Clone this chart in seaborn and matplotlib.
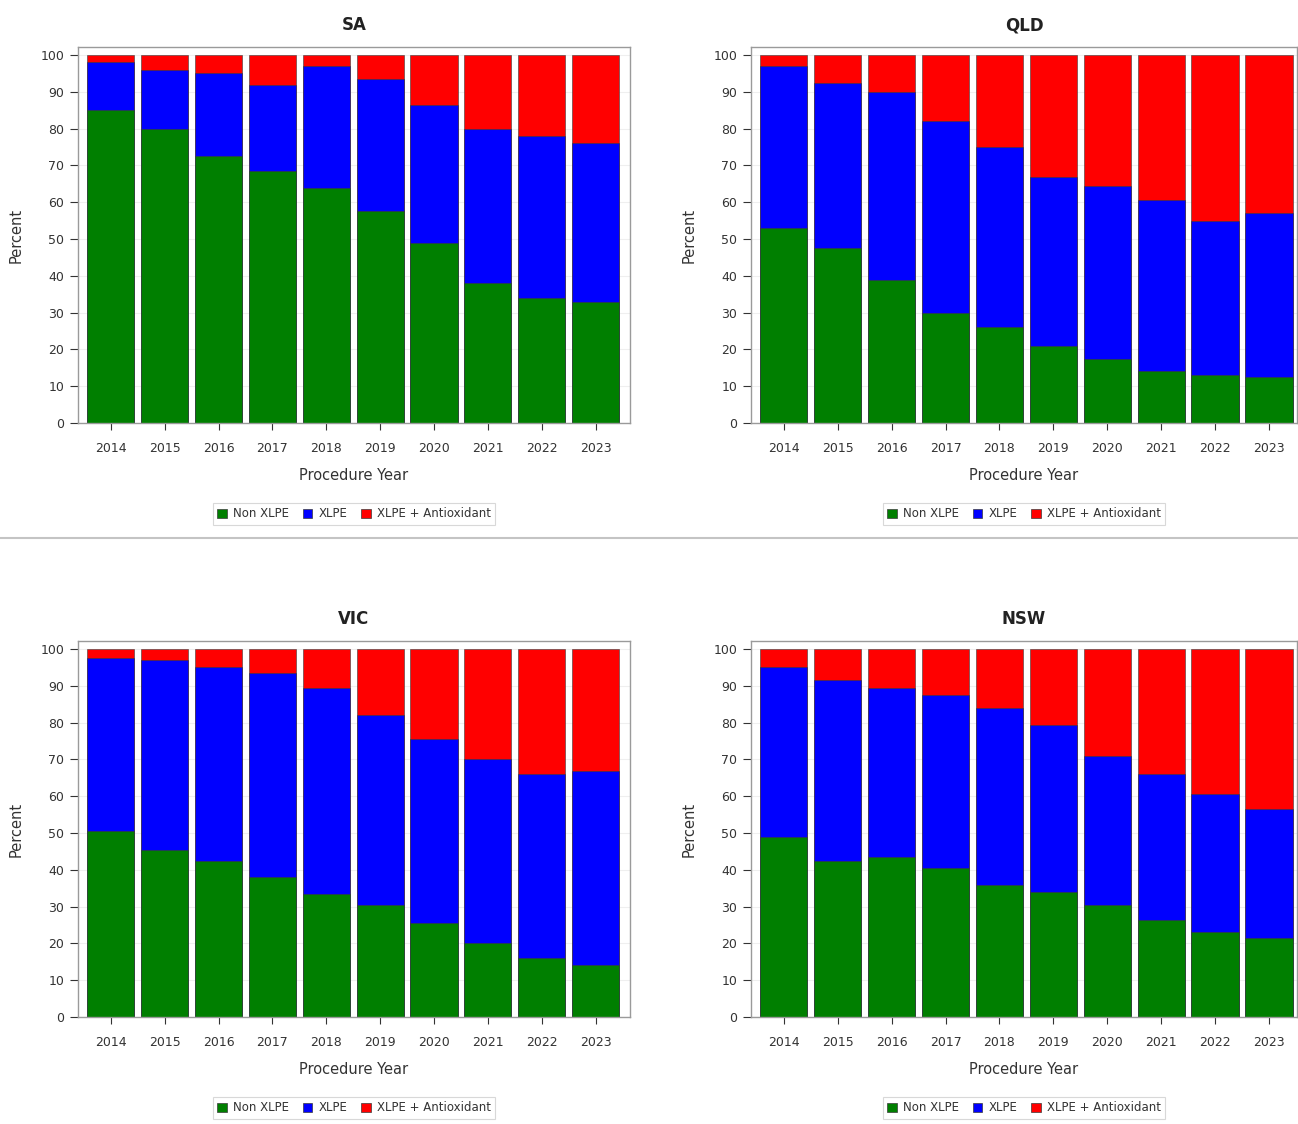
import matplotlib
matplotlib.use('Agg')
import matplotlib.pyplot as plt
from matplotlib.patches import Patch
from matplotlib.lines import Line2D
import seaborn as sns
import pandas as pd

years = [2014, 2015, 2016, 2017, 2018, 2019, 2020, 2021, 2022, 2023]
states = ['SA', 'QLD', 'VIC', 'NSW']
series_names = ['Non XLPE', 'XLPE', 'XLPE + Antioxidant']

# percent of procedures per year
sa_non = [85, 80, 72.5, 68.5, 64, 57.5, 49, 38, 34, 33]
sa_xlpe = [13, 16, 22.5, 23.5, 33, 36, 37.5, 42, 44, 43]
sa_anti = [2, 4, 5, 8, 3, 6.5, 13.5, 20, 22, 24]

qld_non = [53, 47.5, 39, 30, 26, 21, 17.5, 14, 13, 12.5]
qld_xlpe = [44, 45, 51, 52, 49, 46, 47, 46.5, 42, 44.5]
qld_anti = [3, 7.5, 10, 18, 25, 33, 35.5, 39.5, 45, 43]

vic_non = [50.5, 45.5, 42.5, 38, 33.5, 30.5, 25.5, 20, 16, 14]
vic_xlpe = [47, 51.5, 52.5, 55.5, 56, 51.5, 50, 50, 50, 53]
vic_anti = [2.5, 3, 5, 6.5, 10.5, 18, 24.5, 30, 34, 33]

nsw_non = [49, 42.5, 43.5, 40.5, 36, 34, 30.5, 26.5, 23, 21.5]
nsw_xlpe = [46, 49, 46, 47, 48, 45.5, 40.5, 39.5, 37.5, 35]
nsw_anti = [5, 8.5, 10.5, 12.5, 16, 20.5, 29, 34, 39.5, 43.5]

GREEN, BLUE, RED = '#007f00', '#0000ff', '#ff0000'

sns.set_theme(style='white')
plt.rcParams['font.family'] = ['DejaVu Sans']

fig = plt.figure(figsize=(12.98, 11.24), dpi=100)

W, H = 1298, 1124
# axes rects in pixels: left, top, right, bottom, plus right x-limit
rects = {
    'SA': (78, 47, 630, 423, 9.64),
    'QLD': (751, 47, 1297, 423, 9.52),
    'VIC': (78, 641, 630, 1017, 9.64),
    'NSW': (751, 641, 1297, 1017, 9.52),
}
data = {
    'SA': (sa_non, sa_xlpe, sa_anti),
    'QLD': (qld_non, qld_xlpe, qld_anti),
    'VIC': (vic_non, vic_xlpe, vic_anti),
    'NSW': (nsw_non, nsw_xlpe, nsw_anti),
}

for st in states:
    l, t, r, b, xr = rects[st]
    ax = fig.add_axes([l / W, 1 - b / H, (r - l) / W, (b - t) / H])
    non, xlpe, anti = data[st]
    df = pd.DataFrame({'year': [str(y) for y in years], 'non': non, 'xlpe': xlpe, 'anti': anti})
    df['mid'] = df['non'] + df['xlpe']
    df['top'] = df['mid'] + df['anti']

    ax.yaxis.grid(True, color='#efefef', lw=0.8, zorder=0)
    ax.set_axisbelow(True)
    for col, c in [('top', RED), ('mid', BLUE), ('non', GREEN)]:
        sns.barplot(data=df, x='year', y=col, color=c, saturation=1, width=0.875,
                    edgecolor='#3a3a3a', linewidth=0.4, errorbar=None, ax=ax)

    ax.set_xlim(-0.61, xr)
    ax.set_ylim(0, 102.2)
    ax.set_yticks(range(0, 101, 10))
    ax.tick_params(axis='y', labelsize=9, colors='#333333', length=6, width=0.8,
                   direction='out', left=True, pad=4)
    ax.tick_params(axis='x', labelsize=9, colors='#333333', length=5, width=0.8,
                   direction='out', bottom=True, pad=9)
    for sp in ax.spines.values():
        sp.set_color('#9a9a9a')
        sp.set_linewidth(1.0)
    ax.set_xlabel('Procedure Year', fontsize=10.5, color='#333333', labelpad=9)
    ax.set_ylabel('Percent', fontsize=10.5, color='#333333', labelpad=12)
    ax.set_title(st, fontsize=12, fontweight='bold', color='#222222', pad=12)

    handles = [Patch(facecolor=c, edgecolor='#3a3a3a', linewidth=0.5, label=n)
               for c, n in zip([GREEN, BLUE, RED], series_names)]
    leg = ax.legend(handles=handles, loc='center', bbox_to_anchor=(0.5, -0.242), ncol=3,
                    fontsize=8.5, frameon=True, fancybox=False, handlelength=0.8,
                    handleheight=0.8, handletextpad=0.5, columnspacing=1.2,
                    borderpad=0.35, labelcolor='#333333')
    leg.get_frame().set_edgecolor('#cfcfcf')
    leg.get_frame().set_linewidth(0.8)

fig.add_artist(Line2D([0, 1], [1 - 538 / H, 1 - 538 / H], color='#c4c4c4', lw=1.5,
                      transform=fig.transFigure))

fig.savefig('out.png', dpi=100, facecolor='white')
